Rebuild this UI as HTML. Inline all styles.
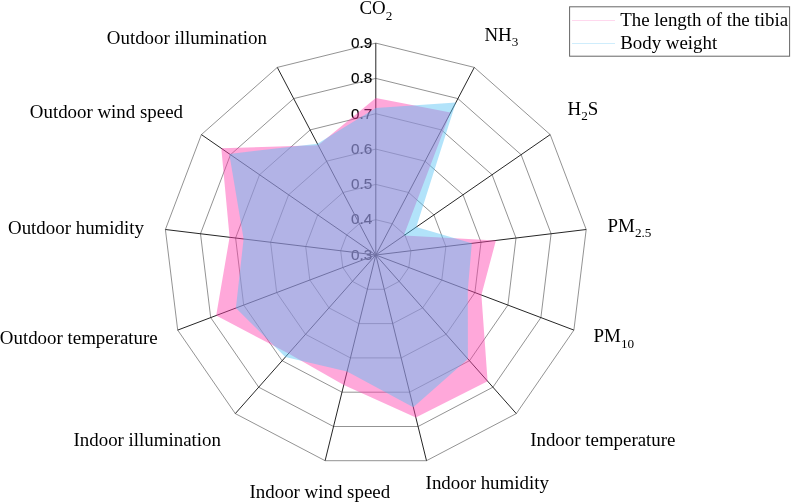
<!DOCTYPE html><html><head><meta charset="utf-8"><title>Radar chart</title><style>html,body{margin:0;padding:0;background:#fff}svg{display:block}text{font-family:"Liberation Serif",serif;font-size:18.9px;fill:#000}.t{font-family:"Liberation Sans",sans-serif;font-size:15.3px;fill:#000;stroke:#000;stroke-width:0.15px}.s{font-size:13.2px}</style></head><body>
<svg width="791" height="503" viewBox="0 0 791 503">
<rect width="791" height="503" fill="#fff"/>
<g fill="none" stroke="#262626" stroke-width="0.5">
<polygon points="375.8,219.7 392.2,223.7 404.9,234.9 410.9,250.7 408.8,267.5 399.2,281.4 384.3,289.3 367.3,289.3 352.4,281.4 342.8,267.5 340.7,250.7 346.7,234.9 359.4,223.7"/>
<polygon points="375.8,184.4 408.6,192.5 433.9,214.9 445.9,246.5 441.8,280.0 422.6,307.9 392.7,323.6 358.9,323.6 329.0,307.9 309.8,280.0 305.7,246.5 317.7,214.9 343.0,192.5"/>
<polygon points="375.8,149.1 425.0,161.2 463.0,194.8 481.0,242.2 474.9,292.6 446.1,334.3 401.2,357.9 350.4,357.9 305.5,334.3 276.7,292.6 270.6,242.2 288.6,194.8 326.6,161.2"/>
<polygon points="375.8,113.7 441.4,129.9 492.1,174.8 516.0,238.0 507.9,305.1 469.5,360.7 409.6,392.2 342.0,392.2 282.1,360.7 243.7,305.1 235.6,238.0 259.5,174.8 310.2,129.9"/>
<polygon points="375.8,78.4 457.9,98.6 521.1,154.7 551.1,233.7 540.9,317.6 492.9,387.2 418.1,426.5 333.5,426.5 258.7,387.2 210.7,317.6 200.5,233.7 230.5,154.7 293.7,98.6"/>
<polygon points="375.8,43.1 474.3,67.4 550.2,134.6 586.2,229.5 573.9,330.1 516.3,413.6 426.5,460.7 325.1,460.7 235.3,413.6 177.7,330.1 165.4,229.5 201.4,134.6 277.3,67.4"/>
</g>
<g class="t" text-anchor="end">
<text class="t" x="372.3" y="259.8">0.3</text>
<text class="t" x="372.3" y="224.4">0.4</text>
<text class="t" x="372.3" y="189.1">0.5</text>
<text class="t" x="372.3" y="153.8">0.6</text>
<text class="t" x="372.3" y="118.5">0.7</text>
<text class="t" x="372.3" y="83.2">0.8</text>
<text class="t" x="372.3" y="47.8">0.9</text>
</g>
<g stroke="#262626" stroke-width="1">
<line x1="375.8" y1="255.0" x2="375.8" y2="43.1"/>
<line x1="375.8" y1="255.0" x2="474.3" y2="67.4"/>
<line x1="375.8" y1="255.0" x2="550.2" y2="134.6"/>
<line x1="375.8" y1="255.0" x2="586.2" y2="229.5"/>
<line x1="375.8" y1="255.0" x2="573.9" y2="330.1"/>
<line x1="375.8" y1="255.0" x2="516.3" y2="413.6"/>
<line x1="375.8" y1="255.0" x2="426.5" y2="460.7"/>
<line x1="375.8" y1="255.0" x2="325.1" y2="460.7"/>
<line x1="375.8" y1="255.0" x2="235.3" y2="413.6"/>
<line x1="375.8" y1="255.0" x2="177.7" y2="330.1"/>
<line x1="375.8" y1="255.0" x2="165.4" y2="229.5"/>
<line x1="375.8" y1="255.0" x2="201.4" y2="134.6"/>
<line x1="375.8" y1="255.0" x2="277.3" y2="67.4"/>
</g>
<polygon points="375.8,97.9 450.5,112.6 403.8,235.6 495.9,240.4 481.4,295.1 487.6,381.2 415.8,417.5 343.8,384.9 288.5,353.6 216.2,315.5 229.6,237.2 221.3,148.3 318.2,145.2" fill="rgb(255,62,173)" fill-opacity="0.45"/>
<polygon points="375.8,107.9 455.9,102.4 416.3,227.0 471.8,243.3 467.8,289.9 467.9,359.0 413.3,407.2 347.1,371.4 285.3,357.1 235.9,308.1 243.6,239.0 229.3,153.9 317.4,143.8" fill="rgb(84,193,244)" fill-opacity="0.45"/>
<text x="359.4" y="14.2" text-anchor="start">CO<tspan class="s" dy="5.3">2</tspan></text>
<text x="484.4" y="40.5" text-anchor="start">NH<tspan class="s" dy="5.3">3</tspan></text>
<text x="567.6" y="114.6" text-anchor="start">H<tspan class="s" dy="5.3">2</tspan><tspan dy="-5.3">S</tspan></text>
<text x="607.6" y="231.7" text-anchor="start">PM<tspan class="s" dy="5.3">2.5</tspan></text>
<text x="593.6" y="342.3" text-anchor="start">PM<tspan class="s" dy="5.3">10</tspan></text>
<text x="530.2" y="446.3" text-anchor="start">Indoor temperature</text>
<text x="425.6" y="488.6" text-anchor="start">Indoor humidity</text>
<text x="249.5" y="497.8" text-anchor="start">Indoor wind speed</text>
<text x="73.5" y="446.3" text-anchor="start">Indoor illumination</text>
<text x="-0.2" y="344.4" text-anchor="start">Outdoor temperature</text>
<text x="8" y="233.5" text-anchor="start">Outdoor humidity</text>
<text x="29.8" y="118" text-anchor="start">Outdoor wind speed</text>
<text x="106.8" y="44" text-anchor="start">Outdoor illumination</text>
<rect x="569.6" y="6.8" width="220" height="49.4" fill="#fff" stroke="#666" stroke-width="1"/>
<line x1="572" y1="20.5" x2="615" y2="20.5" stroke="rgb(255,168,218)" stroke-width="1" stroke-opacity="0.45"/>
<line x1="572" y1="43.5" x2="615" y2="43.5" stroke="rgb(175,225,250)" stroke-width="1" stroke-opacity="0.6"/>
<text x="620.2" y="26.2">The length of the tibia</text>
<text x="620.2" y="49.2">Body weight</text>
</svg></body></html>
